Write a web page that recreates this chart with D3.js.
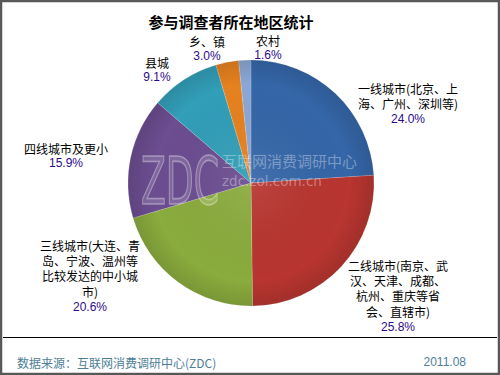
<!DOCTYPE html>
<html>
<head>
<meta charset="utf-8">
<script src="https://cdn.jsdelivr.net/npm/d3@7"></script>
<style>
	body { margin: 0; background: #fff; }
	svg { display: block; font-family: "Noto Sans CJK SC", "DejaVu Sans", sans-serif; }
</style>
</head>
<body>
<svg id="chart" width="500" height="375"></svg>
<script>
"use strict";

// data
var categories = ["一线城市", "二线城市", "三线城市", "四线城市及更小", "县城", "乡、镇", "农村"];
var shares = [24.0, 25.8, 20.6, 15.9, 9.1, 3.0, 1.6];
var label_lines = [
	["一线城市(北京、上", "海、广州、深圳等)"],
	["二线城市(南京、武", "汉、天津、成都、", "杭州、重庆等省", "会、直辖市)"],
	["三线城市(大连、青", "岛、宁波、温州等", "比较发达的中小城", "市)"],
	["四线城市及更小"],
	["县城"],
	["乡、镇"],
	["农村"]
];
var slice_colors = ["#3566a8", "#b83530", "#8aab3d", "#6b4d90", "#329eb8", "#e6811f", "#8ba7d5"];

var title = "参与调查者所在地区统计",
	source = "数据来源：互联网消费调研中心(ZDC)",
	date_text = "2011.08";

// layout
var width = 500, height = 375,
	cx = 251, cy = 183, radius = 123,
	line_h = 15.4;

// label block offsets from pie centre (x centre, first line y)
var label_offsets = [[157, -95], [147, 82], [-161, 62], [-185, -35], [-94, -121], [-44, -142], [17, -143]];

var svg = d3.select("#chart");

svg.append("rect")
	.attr("x", 1).attr("y", 1)
	.attr("width", width - 2).attr("height", height - 2)
	.attr("fill", "#fff")
	.attr("stroke", "#585858")
	.attr("stroke-width", 2.5);

var defs = svg.append("defs");
var shade = defs.append("radialGradient").attr("id", "shade")
	.attr("cx", "50%").attr("cy", "50%").attr("r", "50%");
shade.append("stop").attr("offset", "0%").attr("stop-color", "#fff").attr("stop-opacity", 0.08);
shade.append("stop").attr("offset", "80%").attr("stop-color", "#000").attr("stop-opacity", 0);
shade.append("stop").attr("offset", "100%").attr("stop-color", "#000").attr("stop-opacity", 0.12);

var pie = d3.pie().sort(null).value(function(d) { return d; });
var arc = d3.arc().innerRadius(0).outerRadius(radius);
var arcs = pie(shares);

var g = svg.append("g").attr("transform", "translate(" + cx + "," + cy + ")");

g.selectAll("path.slice")
	.data(arcs)
	.enter().append("path")
		.attr("class", "slice")
		.attr("d", arc)
		.attr("fill", function(d, i) { return slice_colors[i]; })
		.attr("stroke", "#fff")
		.attr("stroke-opacity", 0.25)
		.attr("stroke-width", 0.6);

g.append("circle")
	.attr("r", radius)
	.attr("fill", "url(#shade)");

// watermark
var wm = svg.append("g").attr("pointer-events", "none");
wm.append("text")
	.attr("transform", "translate(141,204) scale(0.55,1)")
	.attr("font-family", "DejaVu Sans")
	.attr("font-size", 66)
	.attr("fill", "#fff").attr("fill-opacity", 0.15)
	.attr("stroke", "#fff").attr("stroke-opacity", 0.35)
	.attr("stroke-width", 1.6)
	.text("ZDC");
wm.append("text")
	.attr("x", 222).attr("y", 167)
	.attr("font-size", 15)
	.attr("fill", "#fff").attr("fill-opacity", 0.35)
	.text("互联网消费调研中心");
wm.append("text")
	.attr("x", 222).attr("y", 186)
	.attr("font-family", "DejaVu Sans")
	.attr("font-size", 13.5)
	.attr("fill", "#fff").attr("fill-opacity", 0.35)
	.text("zdc.zol.com.cn");

// labels
var labels = svg.selectAll("g.label")
	.data(arcs)
	.enter().append("g")
		.attr("class", "label")
		.attr("transform", function(d, i) {
			return "translate(" + (cx + label_offsets[i][0]) + "," + (cy + label_offsets[i][1]) + ")";
		});

labels.each(function(d, i) {
	var lg = d3.select(this);
	label_lines[i].forEach(function(line, j) {
		lg.append("text")
			.attr("y", j * line_h)
			.attr("text-anchor", "middle")
			.attr("dominant-baseline", "central")
			.attr("font-size", 12)
			.attr("fill", "#000")
			.text(line);
	});
	lg.append("text")
		.attr("y", label_lines[i].length * line_h)
		.attr("text-anchor", "middle")
		.attr("dominant-baseline", "central")
		.attr("font-family", "Liberation Sans, Arial, sans-serif")
		.attr("font-size", 12)
		.attr("fill", "#2c0a8c")
		.text(d3.format(".1f")(d.data) + "%");
});

// title
svg.append("text")
	.attr("x", 231).attr("y", 21)
	.attr("text-anchor", "middle")
	.attr("dominant-baseline", "central")
	.attr("font-size", 15)
	.attr("font-weight", "bold")
	.attr("fill", "#000")
	.text(title);

// footer
svg.append("line")
	.attr("x1", 3).attr("x2", width - 3)
	.attr("y1", 337.5).attr("y2", 337.5)
	.attr("stroke", "#000")
	.attr("stroke-width", 1.2);

svg.append("text")
	.attr("x", 17).attr("y", 362)
	.attr("dominant-baseline", "central")
	.attr("font-size", 12)
	.attr("fill", "#4d7e96")
	.text(source);

svg.append("text")
	.attr("x", 466).attr("y", 362)
	.attr("text-anchor", "end")
	.attr("dominant-baseline", "central")
	.attr("font-family", "Liberation Sans, Arial, sans-serif")
	.attr("font-size", 12)
	.attr("fill", "#4d7e96")
	.text(date_text);
</script>
</body>
</html>
